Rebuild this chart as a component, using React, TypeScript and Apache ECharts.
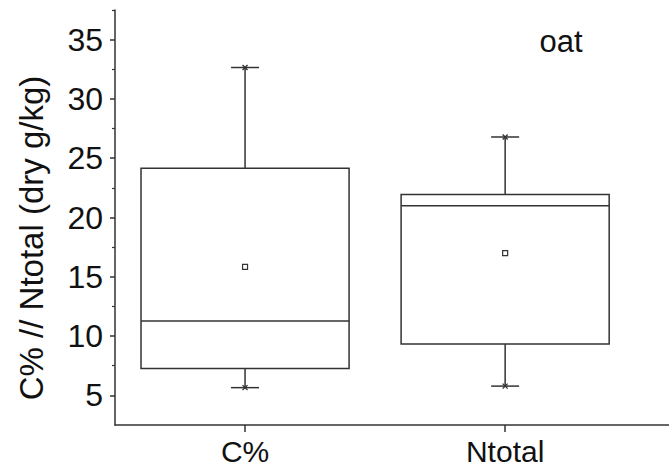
import React, { useEffect, useRef } from "react";
import * as echarts from "echarts";

const categories = ["C%", "Ntotal"];
const whiskerLow = [5.65, 5.78];
const q1 = [7.26, 9.33];
const median = [11.28, 21.0];
const q3 = [24.16, 21.95];
const whiskerHigh = [32.65, 26.79];
const mean = [15.84, 16.99];
const majorTicks = [5, 10, 15, 20, 25, 30, 35];
const minorTicks = [7.5, 12.5, 17.5, 22.5, 27.5, 32.5, 37.5];
const panelLabel = "oat";
const yTitle = "C% // Ntotal (dry g/kg)";

const FONT = "'Liberation Sans', Arial, sans-serif";
const LINE = "#333333";
const TEXT = "#111111";

export default function App() {
  const ref = useRef<HTMLDivElement>(null);
  useEffect(() => {
    if (!ref.current) return;
    const chart = echarts.init(ref.current, null, { renderer: "svg" });
    const data = categories.map((_, i) => [
      i,
      whiskerLow[i],
      q1[i],
      median[i],
      q3[i],
      whiskerHigh[i],
      mean[i],
    ]);
    const option: any = {
      animation: false,
      backgroundColor: "#ffffff",
      grid: { left: 115, right: 0, top: 10, bottom: 43 },
      xAxis: {
        type: "value",
        min: -0.5,
        max: 1.63,
        axisLine: { show: true, onZero: false, lineStyle: { color: LINE, width: 1.5 } },
        axisTick: {
          show: true,
          customValues: [0, 1],
          length: 7,
          lineStyle: { color: LINE, width: 1.5 },
        },
        axisLabel: {
          customValues: [0, 1],
          formatter: (v: number) => categories[Math.round(v)] ?? "",
          fontSize: 30,
          color: TEXT,
          fontFamily: FONT,
          margin: 11,
        },
        splitLine: { show: false },
      },
      yAxis: [
        {
          type: "value",
          min: 2.5,
          max: 37.5,
          position: "left",
          axisLine: { show: true, onZero: false, lineStyle: { color: LINE, width: 1.5 } },
          axisTick: {
            show: true,
            customValues: majorTicks,
            length: 5,
            lineStyle: { color: LINE, width: 1.5 },
          },
          axisLabel: {
            customValues: majorTicks,
            fontSize: 32,
            color: TEXT,
            fontFamily: FONT,
            margin: 12,
          },
          splitLine: { show: false },
        },
        {
          type: "value",
          min: 2.5,
          max: 37.5,
          position: "left",
          offset: 0,
          axisLine: { show: false, onZero: false },
          axisTick: {
            show: true,
            customValues: minorTicks,
            length: 3,
            lineStyle: { color: LINE, width: 1.2 },
          },
          axisLabel: { show: false },
          splitLine: { show: false },
        },
      ],
      graphic: [
        {
          type: "text",
          x: 31,
          y: 238,
          rotation: Math.PI / 2,
          style: {
            text: yTitle,
            fontSize: 33,
            fontFamily: FONT,
            fill: TEXT,
            align: "center",
            verticalAlign: "middle",
          },
        },
        {
          type: "text",
          x: 561,
          y: 41,
          style: {
            text: panelLabel,
            fontSize: 31,
            fontFamily: FONT,
            fill: TEXT,
            align: "center",
            verticalAlign: "middle",
          },
        },
      ],
      series: [
        {
          type: "custom",
          xAxisIndex: 0,
          yAxisIndex: 0,
          encode: { x: 0, y: [1, 2, 3, 4, 5, 6] },
          data,
          renderItem: (params: any, api: any) => {
            const xv = api.value(0);
            const pLow = api.coord([xv, api.value(1)]);
            const pQ1 = api.coord([xv, api.value(2)]);
            const pMed = api.coord([xv, api.value(3)]);
            const pQ3 = api.coord([xv, api.value(4)]);
            const pHigh = api.coord([xv, api.value(5)]);
            const pMean = api.coord([xv, api.value(6)]);
            const w = api.size([0.8, 0])[0];
            const cx = pQ1[0];
            const half = w / 2;
            const cap = 14;
            const m = 2.5;
            const ls = { stroke: LINE, lineWidth: 1.5, fill: "none" };
            const star = (y: number) => [
              { type: "line", shape: { x1: cx - m, y1: y - m, x2: cx + m, y2: y + m }, style: { stroke: LINE, lineWidth: 1.3 } },
              { type: "line", shape: { x1: cx + m, y1: y - m, x2: cx - m, y2: y + m }, style: { stroke: LINE, lineWidth: 1.3 } },
            ];
            return {
              type: "group",
              children: [
                { type: "rect", shape: { x: cx - half, y: pQ3[1], width: w, height: pQ1[1] - pQ3[1] }, style: { stroke: LINE, lineWidth: 1.5, fill: "#ffffff" } },
                { type: "line", shape: { x1: cx - half, y1: pMed[1], x2: cx + half, y2: pMed[1] }, style: ls },
                { type: "line", shape: { x1: cx, y1: pQ3[1], x2: cx, y2: pHigh[1] }, style: ls },
                { type: "line", shape: { x1: cx, y1: pQ1[1], x2: cx, y2: pLow[1] }, style: ls },
                { type: "line", shape: { x1: cx - cap, y1: pHigh[1], x2: cx + cap, y2: pHigh[1] }, style: ls },
                { type: "line", shape: { x1: cx - cap, y1: pLow[1], x2: cx + cap, y2: pLow[1] }, style: ls },
                ...star(pHigh[1]),
                ...star(pLow[1]),
                { type: "rect", shape: { x: cx - 2.5, y: pMean[1] - 2.5, width: 5, height: 5 }, style: { stroke: LINE, lineWidth: 1.2, fill: "#ffffff" } },
              ],
            };
          },
        },
      ],
    };
    chart.setOption(option);
    return () => chart.dispose();
  }, []);
  return (
    <div
      ref={ref}
      style={{ position: "absolute", left: 0, top: 0, width: 669, height: 468 }}
    />
  );
}
